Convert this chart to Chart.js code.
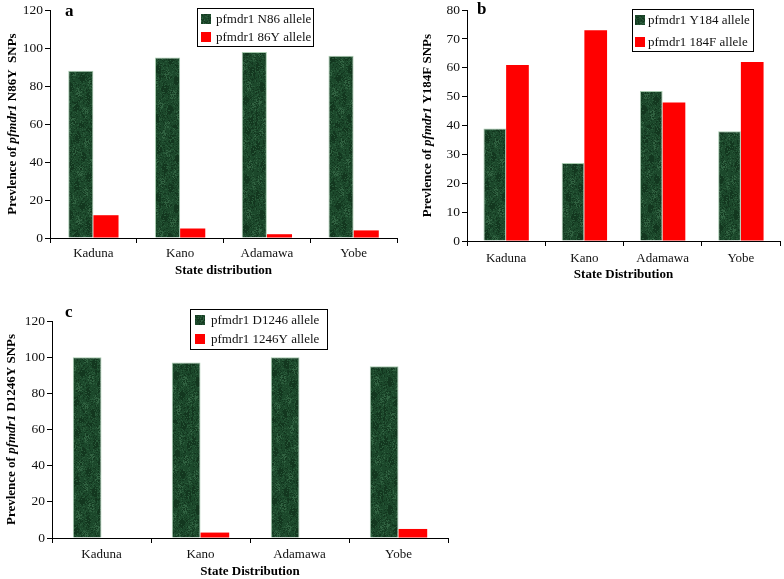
<!DOCTYPE html>
<html>
<head>
<meta charset="utf-8">
<script src="https://cdn.jsdelivr.net/npm/chart.js@4"></script>
<style>
  body { margin: 0; background: #fff; }
  #page { position: relative; width: 784px; height: 579px; overflow: hidden; }
  .panel { position: absolute; }
</style>
</head>
<body>
<div id="page">
  <div class="panel" style="left:0;top:0;width:400px;height:280px"><canvas id="chartA"></canvas></div>
  <div class="panel" style="left:410px;top:0;width:374px;height:283px"><canvas id="chartB"></canvas></div>
  <div class="panel" style="left:0;top:295px;width:460px;height:284px"><canvas id="chartC"></canvas></div>
</div>
<script>
// values
const categories = ["Kaduna", "Kano", "Adamawa", "Yobe"];

const n86Allele = [88, 95, 98, 96];
const y86Allele = [12, 5, 2, 4];

const y184Allele = [39, 27, 52, 38];
const f184Allele = [61, 73, 48, 62];

const d1246Allele = [100, 97, 100, 95];
const y1246Allele = [0, 3, 0, 5];

const yTicksA = [0, 20, 40, 60, 80, 100, 120];
const yTicksB = [0, 10, 20, 30, 40, 50, 60, 70, 80];
const yTicksC = [0, 20, 40, 60, 80, 100, 120];

const SERIF = "'Liberation Serif', 'Times New Roman', serif";
const RED = "#ff0000";

// dark green "marble" fill like the original bars
function marblePattern() {
  const c = document.createElement("canvas");
  c.width = 64; c.height = 128;
  const g = c.getContext("2d");
  g.fillStyle = "#1c482b";
  g.fillRect(0, 0, 64, 128);
  const hash = (x, y) => { const s = Math.sin(x * 12.9898 + y * 78.233) * 43758.5453; return s - Math.floor(s); };
  for (let y = 0; y < 128; y++) {
    for (let x = 0; x < 64; x++) {
      const h = hash(x, y);
      const blot = Math.sin(x * 0.31 + y * 0.07) * Math.cos(y * 0.19 - x * 0.12);
      if (blot > 0.55 && h > 0.6) { g.fillStyle = "rgba(90,150,105,0.35)"; g.fillRect(x, y, 1, 1); }
      else if (h > 0.85) { g.fillStyle = "rgba(70,125,85,0.3)"; g.fillRect(x, y, 1, 1); }
      else if (h < 0.18 || blot < -0.6) { g.fillStyle = "rgba(8,35,18,0.45)"; g.fillRect(x, y, 1, 1); }
    }
  }
  return g.createPattern(c, "repeat");
}
const GREEN = marblePattern();

// legend box, panel letter and mixed-style y title
const decorPlugin = {
  id: "decor",
  afterDraw(chart, args, opts) {
    const ctx = chart.ctx;
    ctx.save();
    // panel letter
    ctx.fillStyle = "#000";
    ctx.font = "bold 17px " + SERIF;
    ctx.textBaseline = "middle";
    ctx.textAlign = "left";
    ctx.fillText(opts.letter, opts.letterX, opts.letterY);

    // legend
    const L = opts.legend;
    ctx.fillStyle = "#fff";
    ctx.fillRect(L.x, L.y, L.w, L.h);
    ctx.strokeStyle = "#000";
    ctx.lineWidth = 1;
    ctx.strokeRect(L.x + 0.5, L.y + 0.5, L.w, L.h);
    ctx.font = "13px " + SERIF;
    chart.data.datasets.forEach((ds, i) => {
      const cy = L.rows[i];
      ctx.fillStyle = ds.backgroundColor;
      ctx.fillRect(L.sx, cy - 5, 10, 10);
      ctx.fillStyle = "#111";
      ctx.fillText(ds.label, L.tx, cy + 1);
    });

    // y axis title
    const segs = opts.yTitle;
    const fontOf = s => (s.it ? "italic bold " : "bold ") + "13px " + SERIF;
    let total = 0;
    segs.forEach(s => { ctx.font = fontOf(s); total += ctx.measureText(s.t).width; });
    const ca = chart.chartArea;
    ctx.translate(opts.yTitleX, (ca.top + ca.bottom) / 2);
    ctx.rotate(-Math.PI / 2);
    let x = -total / 2;
    ctx.fillStyle = "#000";
    segs.forEach(s => {
      ctx.font = fontOf(s);
      ctx.fillText(s.t, x, 0);
      x += ctx.measureText(s.t).width;
    });
    ctx.restore();
  }
};

function makeChart(id, greenLabel, greenData, redLabel, redData, yTicks, cfg) {
  return new Chart(document.getElementById(id), {
    type: "bar",
    data: {
      labels: categories,
      datasets: [
        { label: greenLabel, data: greenData, backgroundColor: GREEN,
          borderColor: "rgba(140,185,150,0.75)", borderWidth: 1, borderSkipped: "bottom" },
        { label: redLabel, data: redData, backgroundColor: RED, borderWidth: 0 }
      ]
    },
    plugins: [decorPlugin],
    options: {
      responsive: true,
      maintainAspectRatio: false,
      animation: false,
      layout: { padding: cfg.padding },
      datasets: { bar: { categoryPercentage: 0.58, barPercentage: 1.0 } },
      plugins: {
        legend: { display: false },
        tooltip: { enabled: false },
        decor: cfg.decor
      },
      scales: {
        x: {
          grid: { offset: true, drawOnChartArea: false, drawTicks: true, tickLength: 5, color: "#000" },
          border: { display: true, color: "#000", width: 1 },
          ticks: { color: "#111", padding: cfg.xTickPad, font: { family: SERIF, size: 13 } },
          title: { display: true, text: cfg.xTitle, color: "#000",
                   font: { family: SERIF, size: 13, weight: "bold" }, padding: { top: 0, bottom: cfg.xTitlePad } },
          afterFit: s => { s.height = cfg.xHeight; }
        },
        y: {
          min: yTicks[0],
          max: yTicks[yTicks.length - 1],
          afterBuildTicks: s => { s.ticks = yTicks.map(v => ({ value: v })); },
          grid: { drawOnChartArea: false, drawTicks: true, tickLength: 5, color: "#000" },
          border: { display: true, color: "#000", width: 1 },
          ticks: { color: "#111", padding: 2, font: { family: SERIF, size: 13.5 } },
          afterFit: s => { s.width = cfg.yWidth; }
        }
      }
    }
  });
}

makeChart("chartA", "pfmdr1 N86 allele", n86Allele, "pfmdr1 86Y allele", y86Allele, yTicksA, {
  padding: { top: 8, right: 3, left: 0, bottom: 0 },
  yWidth: 50, xHeight: 42, xTickPad: 3, xTitle: "State distribution", xTitlePad: 2,
  decor: {
    letter: "a", letterX: 65, letterY: 12,
    legend: { x: 197, y: 8, w: 116, h: 38, sx: 201, tx: 216, rows: [19, 37] },
    yTitle: [{ t: "Prevlence of " }, { t: "pfmdr1", it: true }, { t: " N86Y  SNPs" }],
    yTitleX: 13
  }
});

makeChart("chartB", "pfmdr1 Y184 allele", y184Allele, "pfmdr1 184F allele", f184Allele, yTicksB, {
  padding: { top: 9, right: 4, left: 0, bottom: 0 },
  yWidth: 57, xHeight: 42, xTickPad: 5, xTitle: "State Distribution", xTitlePad: 1,
  decor: {
    letter: "b", letterX: 67, letterY: 10,
    legend: { x: 222, y: 9, w: 121, h: 42, sx: 225, tx: 238, rows: [20, 42] },
    yTitle: [{ t: "Prevlence of " }, { t: "pfmdr1", it: true }, { t: " Y184F SNPs" }],
    yTitleX: 18
  }
});

makeChart("chartC", "pfmdr1 D1246 allele", d1246Allele, "pfmdr1 1246Y allele", y1246Allele, yTicksC, {
  padding: { top: 26, right: 12, left: 0, bottom: 0 },
  yWidth: 52, xHeight: 41, xTickPad: 4, xTitle: "State Distribution", xTitlePad: 0,
  decor: {
    letter: "c", letterX: 65, letterY: 18,
    legend: { x: 190, y: 14, w: 137, h: 40, sx: 195, tx: 211, rows: [25, 44] },
    yTitle: [{ t: "Prevlence of " }, { t: "pfmdr1", it: true }, { t: " D1246Y SNPs" }],
    yTitleX: 12
  }
});
</script>
</body>
</html>
